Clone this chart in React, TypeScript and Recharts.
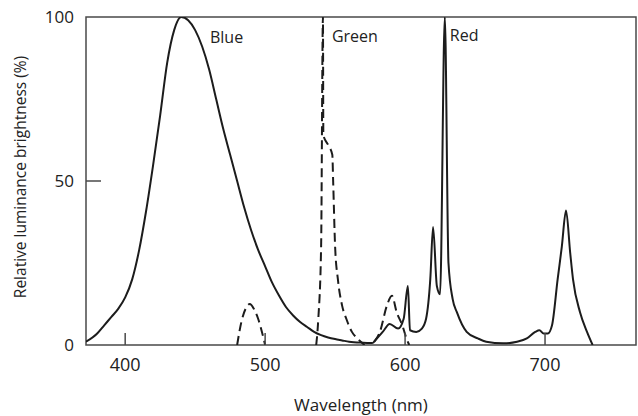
import { LineChart, Line, XAxis, YAxis, ReferenceArea, ReferenceDot } from "recharts"

// wavelength (nm) / relative brightness (%)
const blueNm = [372, 380, 385, 390, 395, 400, 405, 410, 415, 420, 425, 430, 435, 440, 445, 450, 455, 460, 465, 470, 475, 480, 485, 490, 495, 500, 505, 510, 515, 520, 525, 530, 535, 540, 545, 550, 555, 560, 570, 577]
const blueVal = [1, 3.5, 6, 8.5, 11, 14.5, 20, 29, 41, 55, 70, 86, 96, 100, 99, 96, 91, 84, 75, 66, 58, 50, 42, 35, 29, 24, 19, 15, 11.5, 9, 7, 5.5, 4, 3, 2.3, 1.8, 1.4, 1, 0.7, 0.6]

const greenNm = [480, 483, 486, 489, 492, 495, 500, 510, 536.5, 538, 540, 541.3, 541.6, 545, 548, 548.6, 550, 552, 555, 558, 562, 566, 571, 575, 578, 582, 587, 590.6, 594, 598, 601, 603]
const greenVal = [0, 7, 11, 12.5, 11, 8, 0, null, 0, 8, 30, 100, 64, 61, 58, 50, 30, 20, 12, 8, 4, 2, 0, null, 1, 4, 12, 15, 10, 6, 2, 0]

const redNm = [577, 584, 589, 595, 599, 602, 603.5, 608, 612, 615, 618, 620, 622.7, 625, 628.4, 631, 634, 637, 644, 652, 658, 670, 680, 687, 693, 696, 699, 702, 705, 709, 712, 715, 718, 720, 725, 730, 734]
const redVal = [0.6, 4, 6.4, 5, 8, 18, 4.5, 4, 5, 8, 20, 36, 18, 15.5, 100, 25, 14, 10, 4, 2, 1, 0.5, 1, 2, 4, 4.5, 3.5, 3.5, 6, 20, 30, 41, 28, 20, 10, 4, 0]

const xTicks = [400, 500, 600, 700]
const yTicks = [0, 50, 100]

const seriesLabels = ["Blue", "Green", "Red"]
const labelNm = [460.6, 547.7, 632]
const labelVal = [93.9, 94.2, 94.5]

const toRows = (xs: number[], ys: (number | null)[]) => xs.map((nm, i) => ({ nm, v: ys[i] }))

const blueData = toRows(blueNm, blueVal)
const greenData = toRows(greenNm, greenVal)
const redData = toRows(redNm, redVal)

const FONT = "'Open Sans', sans-serif"
const INK = "#1c1c1c"
const FRAME = "#4a4a4a"
const TEXT = "#222"

const XTick = (props: any) => {
  const { x, y, payload } = props
  return (
    <g>
      <line x1={x} x2={x} y1={y - 13} y2={y - 25} stroke={FRAME} strokeWidth={1.5} />
      <text x={x} y={y} dy="0.71em" textAnchor="middle" fontFamily={FONT} fontSize={18} fill={TEXT}>
        {payload.value}
      </text>
    </g>
  )
}

const YTick = (props: any) => {
  const { x, y, payload } = props
  return (
    <g>
      {payload.value === 50 && <line x1={x + 12} x2={x + 27} y1={y} y2={y} stroke={FRAME} strokeWidth={1.5} />}
      <text x={x} y={y} dy="0.36em" textAnchor="end" fontFamily={FONT} fontSize={17} fill={TEXT}>
        {payload.value}
      </text>
    </g>
  )
}

const YTitle = (props: any) => {
  const { viewBox } = props
  const cx = viewBox.x + 20
  const cy = viewBox.y + viewBox.height / 2 - 4
  return (
    <text x={cx} y={cy} dy="0.36em" textAnchor="middle" transform={`rotate(-90 ${cx} ${cy})`} fontFamily={FONT} fontSize={15.5} fill={TEXT}>
      Relative luminance brightness (%)
    </text>
  )
}

export default function App() {
  return (
    <div style={{ position: "absolute", left: 0, top: 0, background: "#fff" }}>
      <LineChart width={638} height={416} margin={{ top: 17, right: 2, bottom: 0, left: 0 }}>
        <XAxis
          type="number"
          dataKey="nm"
          domain={[372, 765]}
          ticks={xTicks}
          allowDataOverflow
          axisLine={false}
          tickLine={false}
          tickSize={0}
          tickMargin={13}
          height={71}
          tick={<XTick />}
          label={{ value: "Wavelength (nm)", position: "insideBottom", offset: 5, fontFamily: FONT, fontSize: 17, fill: TEXT }}
        />
        <YAxis
          type="number"
          domain={[0, 100]}
          ticks={yTicks}
          allowDataOverflow
          width={86}
          axisLine={false}
          tickLine={false}
          tickSize={0}
          tickMargin={12}
          tick={<YTick />}
          label={{ content: <YTitle /> }}
        />
        <ReferenceArea x1={372} x2={765} y1={0} y2={100} fill="none" stroke={FRAME} strokeWidth={1.5} />
        <Line data={blueData} dataKey="v" type="monotone" stroke={INK} strokeWidth={2} dot={false} isAnimationActive={false} />
        <Line data={greenData} dataKey="v" type="monotone" stroke={INK} strokeWidth={2} strokeDasharray="9 5" dot={false} isAnimationActive={false} connectNulls={false} />
        <Line data={redData} dataKey="v" type="monotone" stroke={INK} strokeWidth={2} dot={false} isAnimationActive={false} />
        {seriesLabels.map((name, i) => (
          <ReferenceDot
            key={name}
            x={labelNm[i]}
            y={labelVal[i]}
            r={0}
            fill="none"
            stroke="none"
            label={{ value: name, position: "right", offset: 0, fontFamily: FONT, fontSize: 16, fill: TEXT }}
          />
        ))}
      </LineChart>
    </div>
  )
}
